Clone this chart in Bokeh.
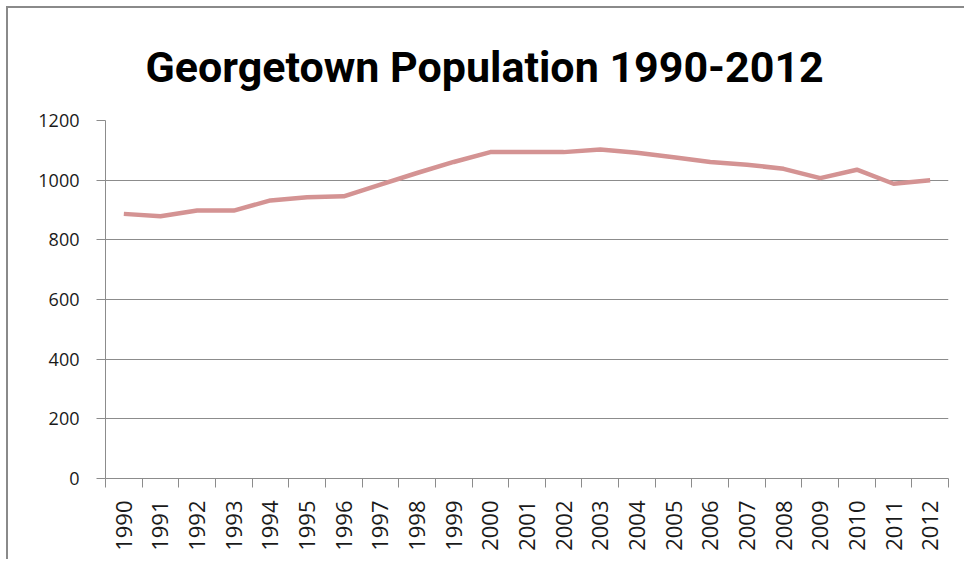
import math
from bokeh.plotting import figure
from bokeh.models import FixedTicker, Range1d, Title
from bokeh.embed import file_html
from bokeh.resources import INLINE

years = list(range(1990, 2013))
population = [887, 879, 898, 898, 932, 943, 946, 985, 1024, 1061, 1094, 1094,
              1094, 1103, 1092, 1077, 1061, 1052, 1038, 1007, 1035, 988, 1000]
y_ticks = [0, 200, 400, 600, 800, 1000, 1200]
title_text = "Georgetown Population 1990-2012"

p = figure(width=958, height=553, output_backend="svg", toolbar_location=None,
           x_range=Range1d(years[0] - 0.5, years[-1] + 0.5),
           y_range=Range1d(y_ticks[0], y_ticks[-1]),
           min_border_left=97, min_border_right=18, min_border_top=112,
           min_border_bottom=83)

p.styles = {"border-top": "2px solid #8a8a8a", "border-left": "2px solid #8a8a8a",
            "margin-left": "6px", "margin-top": "6px"}

p.title = Title(text=title_text, text_font="Roboto", text_font_size="43px",
                text_font_style="bold", text_color="black", align="left",
                offset=40, standoff=58)

p.line(years, population, line_color="#D49393", line_width=4.5)

grey = "#8c8c8c"
p.outline_line_color = None
p.xgrid.grid_line_color = None
p.ygrid.grid_line_color = grey
p.ygrid.grid_line_width = 1
p.ygrid.ticker = FixedTicker(ticks=y_ticks)

p.yaxis.ticker = FixedTicker(ticks=y_ticks)
p.yaxis.axis_line_color = grey
p.yaxis.major_tick_line_color = grey
p.yaxis.major_tick_out = 9
p.yaxis.major_tick_in = 0
p.yaxis.minor_tick_line_color = None
p.yaxis.major_label_text_font = "Open Sans"
p.yaxis.major_label_text_font_size = "18px"
p.yaxis.major_label_text_color = "#1a1a1a"
p.yaxis.major_label_standoff = 17

p.xaxis.ticker = FixedTicker(ticks=years, minor_ticks=[y - 0.5 for y in years] + [years[-1] + 0.5])
p.xaxis.axis_line_color = grey
p.xaxis.major_tick_line_color = None
p.xaxis.minor_tick_line_color = grey
p.xaxis.minor_tick_out = 9
p.xaxis.minor_tick_in = 0
p.xaxis.major_label_orientation = math.pi / 2
p.xaxis.major_label_text_font = "Open Sans"
p.xaxis.major_label_text_font_size = "22px"
p.xaxis.major_label_text_color = "#1a1a1a"
p.xaxis.major_label_standoff = 13

open("out.html", "w").write(file_html(p, INLINE))
